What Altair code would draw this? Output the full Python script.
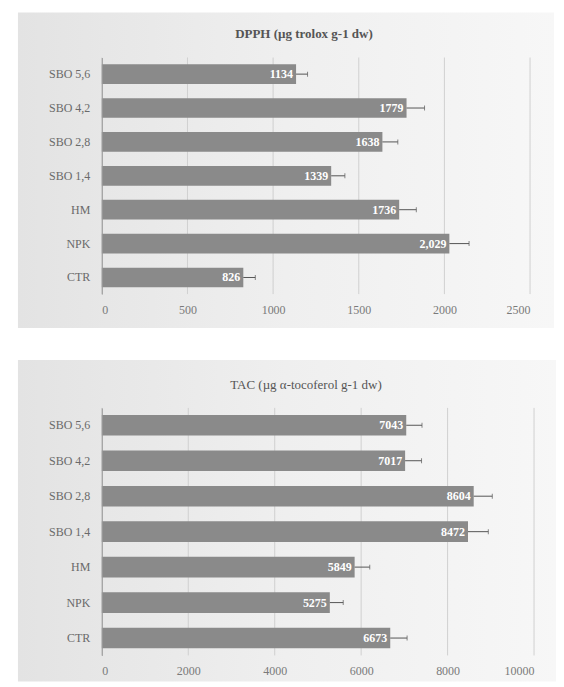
import altair as alt
import pandas as pd

categories = ["SBO 5,6", "SBO 4,2", "SBO 2,8", "SBO 1,4", "HM", "NPK", "CTR"]
dpph_values = [1134, 1779, 1638, 1339, 1736, 2029, 826]
dpph_errors = [67, 105, 90, 80, 100, 115, 70]
dpph_labels = ["1134", "1779", "1638", "1339", "1736", "2,029", "826"]
tac_values = [7043, 7017, 8604, 8472, 5849, 5275, 6673]
tac_errors = [365, 380, 430, 470, 350, 310, 390]
tac_labels = ["7043", "7017", "8604", "8472", "5849", "5275", "6673"]

dpph_ticks = [0, 500, 1000, 1500, 2000, 2500]
tac_ticks = [0, 2000, 4000, 6000, 8000, 10000]

SERIF = "'Liberation Serif', 'Times New Roman', 'DejaVu Serif', serif"
BAR = "#8a8a8a"

bg_gradient = alt.Gradient(
    gradient="linear",
    stops=[alt.GradientStop(color="#e3e3e3", offset=0),
           alt.GradientStop(color="#efefef", offset=0.5),
           alt.GradientStop(color="#f7f7f7", offset=1)],
    x1=0, x2=1, y1=0, y2=0,
)


def panel(title, values, errors, labels, ticks, width, height, bg_box, title_y, title_style):
    df = pd.DataFrame({
        "cat": categories,
        "v": values,
        "hi": [v + e for v, e in zip(values, errors)],
        "lab": labels,
    })
    tdf = pd.DataFrame({"t": ticks})
    dmax = ticks[-1]
    xscale = alt.Scale(domain=[0, dmax], nice=False)
    y = alt.Y("cat:N", sort=categories,
              scale=alt.Scale(paddingInner=0.42, paddingOuter=0.2),
              axis=alt.Axis(title=None, ticks=False, domain=True, domainColor="#9a9a9a",
                            labelFont=SERIF, labelFontSize=12, labelColor="#6a6a6a",
                            labelPadding=12, minExtent=70, zindex=1))
    x = alt.X("v:Q", scale=xscale,
              axis=alt.Axis(title=None, values=ticks, format="d", ticks=False, domain=False,
                            grid=False,
                            labelFont=SERIF, labelFontSize=12, labelColor="#7a7a7a",
                            labelPadding=10, zindex=1))
    base = alt.Chart(df)
    x0, x1, y0, y1 = bg_box
    bg = base.mark_rect(color=bg_gradient).encode(
        x=alt.value(x0), x2=alt.value(width + x1),
        y=alt.value(y0), y2=alt.value(height + y1),
    ).transform_filter(alt.datum.cat == categories[0])
    grid = alt.Chart(tdf).mark_rule(color="#d0d0d0", strokeWidth=1).encode(
        x=alt.X("t:Q", scale=xscale), y=alt.value(0), y2=alt.value(height))
    bars = base.mark_bar(color=BAR).encode(x=x, y=y)
    err = base.mark_rule(color="#555555", strokeWidth=1).encode(
        x="v:Q", x2="hi:Q", y=alt.Y("cat:N", sort=categories))
    cap = base.mark_tick(color="#555555", orient="vertical", size=5, thickness=1).encode(
        x="hi:Q", y=alt.Y("cat:N", sort=categories))
    txt = base.mark_text(align="right", baseline="middle", dx=-3, color="white",
                         font=SERIF, fontSize=12, fontWeight="bold").encode(
        x="v:Q", y=alt.Y("cat:N", sort=categories), text="lab:N")
    ttl = base.mark_text(align="center", baseline="middle", font=SERIF, fontSize=13,
                         color="#555555", **title_style).encode(
        x=alt.value(width / 2 - 12), y=alt.value(title_y), text=alt.value(title)
    ).transform_filter(alt.datum.cat == categories[0])
    return alt.layer(bg, grid, bars, err, cap, txt, ttl).properties(width=width, height=height)


top = panel("DPPH (µg trolox g-1 dw)", dpph_values, dpph_errors, dpph_labels,
            dpph_ticks, 429, 237, (-84, 24, -45, 34), -24, {"fontWeight": "bold"})
bottom = panel("TAC (µg  α-tocoferol g-1 dw)", tac_values, tac_errors, tac_labels,
               tac_ticks, 433, 248, (-84, 22, -48, 26), -23, {})

chart = alt.vconcat(top, bottom, spacing=32).properties(
    padding={"left": 10, "top": 4, "right": 0, "bottom": 0},
    background="white",
).configure_view(stroke=None)

chart.save("out.html", embed_options={"renderer": "svg", "actions": False})
